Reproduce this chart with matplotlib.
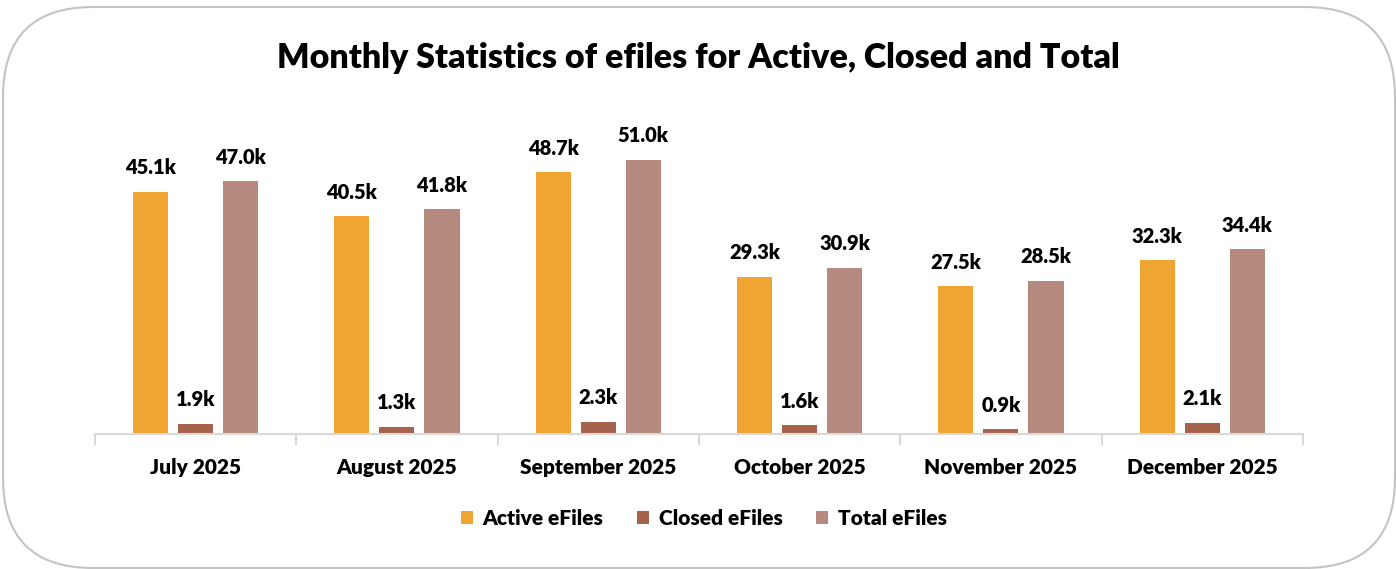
import numpy as np
import matplotlib
matplotlib.use('Agg')
import matplotlib.pyplot as plt
from matplotlib.patches import FancyBboxPatch

plt.rcParams['font.family'] = ['Lato', 'DejaVu Sans']
plt.rcParams['font.weight'] = 'heavy'

months = ['July 2025', 'August 2025', 'September 2025', 'October 2025', 'November 2025', 'December 2025']
active = [45.1, 40.5, 48.7, 29.3, 27.5, 32.3]
closed = [1.9, 1.3, 2.3, 1.6, 0.9, 2.1]
total = [47.0, 41.8, 51.0, 30.9, 28.5, 34.4]
series_names = ['Active eFiles', 'Closed eFiles', 'Total eFiles']
colors = ['#F0A432', '#A6634B', '#B68A7E']

fig = plt.figure(figsize=(13.96, 5.69), dpi=100)

# rounded chart border like the Excel chart area
border = FancyBboxPatch((0.03, 0.01), 13.92, 5.61, boxstyle='round,pad=0,rounding_size=0.9',
                        transform=fig.dpi_scale_trans, fill=False, edgecolor='#c4c4c4', linewidth=1.5)
fig.patches.append(border)

ax = fig.add_axes([0.068, 0.2373, 0.8653, 0.5666])

x = np.arange(len(months))
w = 0.174
step = 0.224
for i, (vals, name, c) in enumerate(zip([active, closed, total], series_names, colors)):
    pos = x + (i - 1) * step
    bars = ax.bar(pos, vals, width=w, color=c, label=name, zorder=2)
    for b, v in zip(bars, vals):
        ax.text(b.get_x() + b.get_width() / 2, v + 2.7, f'{v:.1f}k', ha='center', va='bottom',
                fontsize=14.5, fontweight='heavy')

ax.set_xlim(-0.5, len(months) - 0.5)
ax.set_ylim(0, 60)
ax.set_yticks([])
for s in ['left', 'right', 'top']:
    ax.spines[s].set_visible(False)
ax.spines['bottom'].set_color('#d9d9d9')
ax.spines['bottom'].set_linewidth(1.5)

ax.set_xticks(x)
ax.set_xticklabels(months, fontsize=15, fontweight='heavy')
ax.tick_params(axis='x', which='major', length=0, pad=17)
ax.set_xticks(np.arange(len(months) + 1) - 0.5, minor=True)
ax.tick_params(axis='x', which='minor', length=8, width=1.5, color='#d9d9d9', direction='out')

fig.text(0.5, 0.898, 'Monthly Statistics of efiles for Active, Closed and Total', ha='center', va='center',
         fontsize=24.5, fontweight='heavy')

fig.legend(loc='center', bbox_to_anchor=(0.504, 0.089), ncol=3, frameon=False,
           prop={'size': 15, 'weight': 'heavy'},
           handlelength=0.6, handleheight=0.6, handletextpad=0.45, columnspacing=1.6)

fig.savefig('out.png', dpi=100)
